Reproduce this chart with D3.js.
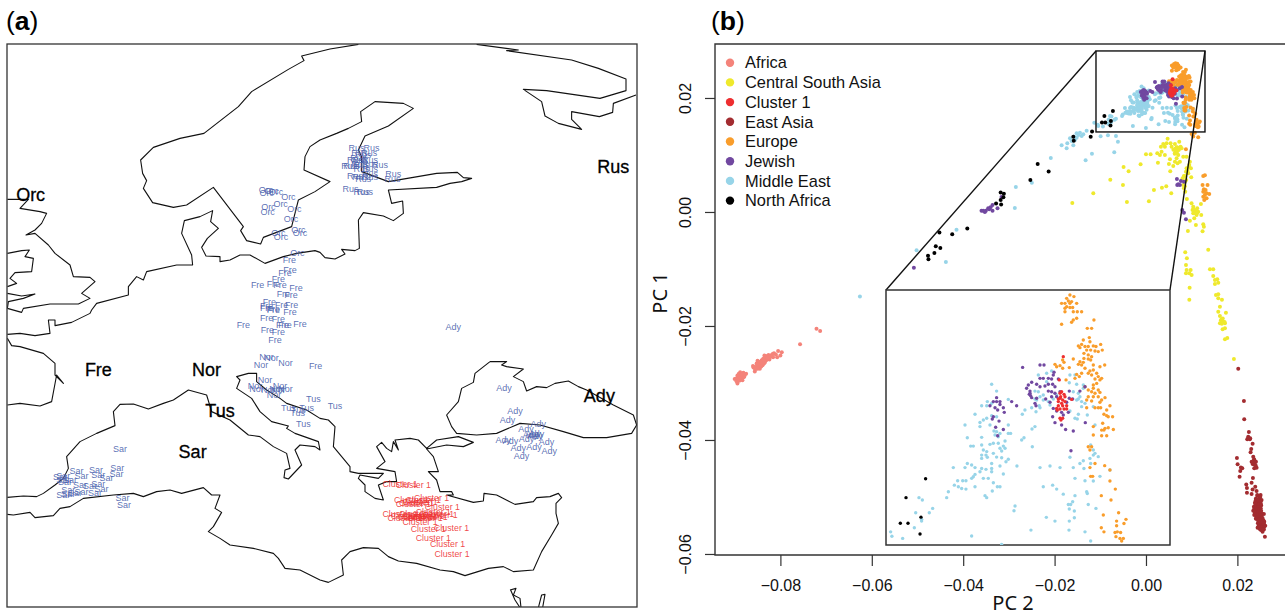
<!DOCTYPE html>
<html>
<head>
<meta charset="utf-8">
<script src="https://cdn.jsdelivr.net/npm/d3@7"></script>
<style>
  html, body { margin: 0; padding: 0; background: #fff; overflow: hidden; }
  text { font-family: "Liberation Sans", Arial, sans-serif; }
</style>
</head>
<body>
<div id="viz"></div>
<script>
// ---- panel (a): coastlines as [lon, lat]
const coastNorth = [[22.83,72.61],[20.56,72.24],[18.29,71.68],[18.48,71.31],[17.23,70.61],[14.29,68.83],[13.23,67.63],[10.48,65.49],[8.56,65.09],[6.43,64.37],[5.41,63.36],[5.57,62.29],[5.89,61.71],[5.63,61.09],[6.37,59.95],[8.03,59.57],[9.09,59.76],[11.23,61.17],[13.63,58.03],[13.41,57.71],[13.89,56.91],[15.01,56.64],[15.23,57.17],[17.49,58.03],[18.03,60.16],[19.36,60.83],[20.56,61.63],[18.48,62.56],[18.56,63.63],[18.96,64.43],[19.76,64.96],[21.09,65.49],[22.03,65.89],[23.09,66.43],[23.01,67.23],[24.16,68.03],[26.43,67.89],[27.23,67.49],[25.23,66.08],[23.36,65.28],[22.83,64.16],[23.09,63.63],[23.09,62.43],[24.16,62.03],[25.23,61.63],[29.09,62.29],[30.75,62.37],[31.23,61.95],[31.89,61.89],[31.09,61.63],[30.16,61.49],[29.09,61.17],[25.23,60.96],[25.49,59.89],[26.37,60.08],[26.43,59.09],[25.63,58.51],[24.83,58.88],[23.23,59.15],[22.83,58.56],[22.91,56.29],[22.56,56.11],[21.49,56.21],[21.76,55.84],[20.96,55.44],[20.16,55.55],[19.76,55.97],[19.36,56.11],[17.89,55.89],[16.83,55.63],[15.36,55.09],[14.16,55.76],[13.36,55.76],[12.56,55.36],[11.76,55.23],[11.76,55.63],[10.64,55.68],[10.29,56.37],[10.75,57.09],[11.63,57.89],[11.01,58.43],[11.17,59.31],[10.16,58.83],[8.91,58.51],[8.69,57.49],[9.49,55.76],[9.57,54.96],[8.29,54.96],[5.89,54.43],[5.63,53.76],[5.09,54.03],[4.43,53.23],[4.43,52.56],[1.89,51.89],[1.49,51.36],[1.36,51.09],[-0.11,50.37],[-1.44,50.11],[-1.44,50.56],[-1.97,50.56],[-1.84,49.49],[-3.04,49.31],[-4.24,49.49],[-5.25,49.41]];
const coastBiscay = [[-5.25,49.09],[-4.91,48.51],[-4.24,48.43],[-2.37,47.89],[-1.44,47.09],[-1.44,46.16],[-0.77,45.49],[-1.31,46.16],[-1.71,44.03],[-2.64,43.68],[-4.24,43.89],[-5.25,43.76]];
const coastBritain = [[-5.25,60.21],[-3.57,60.21],[-4.24,59.49],[-2.64,59.23],[-2.11,59.09],[-2.51,58.29],[-3.04,57.76],[-3.76,57.36],[-3.04,57.49],[-1.97,56.56],[-1.44,55.89],[-0.24,54.96],[0.03,54.03],[1.36,53.97],[1.76,53.63],[0.69,52.69],[1.36,52.29],[0.43,51.84],[-1.84,51.84],[-3.97,51.49],[-4.11,51.17],[-5.25,51.49]];
const coastIrelandA = [[-5.25,55.89],[-4.11,56.11],[-3.49,56.16],[-3.84,55.63],[-3.17,55.49],[-3.31,54.43],[-4.64,54.35],[-5.04,53.89],[-4.51,53.49],[-5.25,53.23]];
const coastIrelandB = [[-5.25,52.69],[-4.11,52.48],[-3.04,52.64],[-3.97,52.29],[-5.17,52.03],[-5.25,51.49]];
const coastMed = [[-5.25,36.37],[-3.97,36.48],[-2.91,36.43],[-2.37,36.69],[-1.44,37.36],[-0.77,37.89],[-0.37,38.69],[-0.51,39.63],[0.56,40.83],[1.89,41.49],[3.36,42.11],[3.23,43.23],[3.76,43.81],[4.83,43.84],[6.03,43.44],[7.23,43.89],[8.03,44.16],[9.23,44.96],[10.69,44.56],[11.09,43.23],[12.56,42.56],[14.03,41.36],[14.96,41.23],[16.03,40.43],[17.09,39.89],[17.36,38.69],[16.96,38.56],[16.88,37.95],[17.23,37.84],[18.29,38.96],[17.76,40.16],[18.16,40.56],[19.36,40.43],[19.76,40.16],[19.63,40.83],[17.76,41.49],[17.09,41.89],[17.23,42.08],[15.89,42.43],[14.96,43.23],[14.29,44.29],[13.09,45.09],[13.36,45.76],[13.09,46.03],[14.03,46.29],[14.69,46.29],[14.69,45.63],[15.49,44.96],[16.56,44.29],[17.09,43.89],[18.69,43.36],[19.76,42.69],[20.43,42.56],[20.96,42.03],[20.83,40.43],[22.16,38.83],[22.16,38.43],[22.83,38.29],[24.83,38.29],[24.43,37.89],[22.96,38.16],[22.83,37.89],[23.36,37.36],[23.36,36.83],[24.16,36.29],[24.83,36.16],[24.43,37.36],[25.09,37.63],[25.89,37.63],[25.76,38.43],[24.29,38.69],[24.96,39.23],[24.29,40.43],[24.69,40.77],[25.09,40.29],[25.49,40.03],[25.63,40.83],[26.03,40.16],[25.76,40.96],[26.96,41.09],[27.63,40.96],[28.29,40.29],[29.09,40.96],[30.83,41.23],[32.03,40.77],[31.23,40.43],[29.89,40.56],[28.29,40.24],[28.83,39.63],[29.23,38.43],[28.43,38.43],[29.09,37.76],[29.36,36.83],[30.29,36.83],[30.43,36.56],[29.89,36.56],[32.03,35.97],[32.83,36.08],[32.88,36.69],[33.89,36.56],[35.36,35.81],[36.83,36.03],[37.09,36.35],[38.16,36.43],[38.83,36.69],[39.09,36.35],[38.64,35.89],[38.64,35.09],[38.83,34.29],[38.29,33.36],[37.49,32.03],[36.83,30.56],[35.23,30.43],[34.43,30.83],[33.23,30.69],[31.36,30.11],[30.43,30.43],[29.36,30.56],[27.49,31.09],[26.03,31.28],[25.23,31.63],[24.43,32.29],[23.23,32.35],[22.16,32.03],[21.49,31.36],[21.63,30.16],[20.43,29.57],[19.76,29.76],[18.16,30.56],[16.96,30.69],[16.43,31.49],[16.03,31.89],[14.43,32.29],[12.56,32.56],[11.76,33.09],[10.83,33.63],[11.23,34.03],[11.89,35.17],[11.36,35.49],[11.76,36.56],[11.09,36.56],[10.43,37.15],[8.69,36.69],[7.76,36.96],[6.69,36.83],[5.63,36.43],[4.83,36.69],[3.23,36.56],[0.83,36.29],[-0.24,35.63],[-1.04,35.49],[-1.57,34.91],[-3.04,34.75],[-3.44,35.17],[-4.77,34.96],[-5.25,35.01]];
const coastBlackSea = [[33.36,47.23],[34.69,47.23],[34.29,46.96],[34.69,46.83],[36.03,46.64],[35.23,46.03],[36.03,45.63],[36.29,44.88],[37.09,45.23],[37.89,45.15],[38.56,45.49],[39.63,45.68],[40.43,45.23],[41.09,44.96],[43.23,43.76],[44.83,42.96],[45.09,42.16],[44.69,41.49],[42.69,41.15],[40.83,41.15],[39.23,41.63],[37.36,42.16],[35.76,42.29],[33.89,41.49],[32.29,41.36],[30.69,41.49],[30.29,42.03],[29.89,42.96],[30.83,44.03],[31.09,45.09],[32.03,45.57],[32.16,46.29],[33.36,47.23]];
const coastArctic = [[32.29,72.61],[35.63,72.16],[34.69,72.11],[39.89,71.36],[42.03,70.69],[44.24,69.84],[44.24,68.91],[42.16,68.29],[37.89,68.91],[36.03,69.01],[37.49,68.03],[37.76,66.88],[38.83,66.29],[40.69,65.81],[39.89,66.61],[39.89,67.23],[42.11,66.83],[43.17,67.17],[43.23,67.89],[45.04,68.56]];
const coastSinaiA = [[34.96,28.96],[35.44,29.09],[35.23,28.56],[35.76,28.29],[35.84,27.55]];
const coastSinaiB = [[35.01,28.96],[35.36,28.16],[35.76,27.55]];
const coastSinaiC = [[37.23,27.55],[37.49,28.56],[37.76,28.61],[37.57,27.55]];
const coastlines = [coastNorth, coastBiscay, coastBritain, coastIrelandA, coastIrelandB, coastMed, coastBlackSea, coastArctic, coastSinaiA, coastSinaiB, coastSinaiC];

// sample positions, [lon, lat]
const sampleRus = [[22.69,64.37],[23.89,64.37],[22.91,63.95],[23.71,63.95],[22.83,63.57],[23.76,63.41],[22.56,63.36],[22.96,63.36],[22.11,62.93],[22.29,62.88],[24.56,62.96],[23.76,63.04],[23.76,62.69],[23.09,62.96],[25.63,62.24],[25.57,61.89],[22.56,62.11],[22.96,62.03],[23.23,61.84],[23.76,62.24],[23.76,62.03],[22.21,61.09],[23.09,60.83],[23.36,60.83],[23.09,62.69],[23.23,63.76],[22.91,63.09]];
const sampleOrc = [[15.44,60.96],[15.49,60.75],[16.24,60.83],[17.23,60.43],[16.61,59.89],[15.63,59.63],[15.57,59.23],[17.71,59.49],[17.44,58.69],[18.03,57.81],[18.16,57.55],[16.43,57.55],[16.64,57.23],[15.89,60.91],[17.95,55.95]];
const sampleFre = [[17.31,55.36],[17.36,54.56],[16.96,54.35],[16.43,53.89],[14.77,53.41],[16.03,53.49],[16.56,53.36],[17.84,53.17],[16.83,52.69],[17.44,52.56],[15.71,52.03],[16.69,51.76],[17.49,51.76],[15.49,51.71],[16.03,51.49],[15.49,51.55],[16.03,51.36],[17.36,51.23],[15.49,50.75],[16.43,50.69],[16.77,50.16],[18.16,50.24],[13.63,50.21],[15.55,49.76],[16.43,49.63],[16.16,48.99],[19.41,46.91],[16.96,50.21]];
const sampleNor = [[15.49,47.63],[15.89,47.57],[17.01,47.15],[15.04,46.96],[15.36,45.76],[14.56,45.28],[14.69,45.09],[16.56,45.28],[17.01,45.04],[15.63,44.96],[16.29,45.09],[16.08,44.56],[16.43,44.96]];
const sampleTus = [[19.23,44.29],[17.23,43.55],[18.03,43.36],[18.69,43.55],[17.97,43.17],[18.43,42.24],[20.96,43.71]];
const sampleSar = [[3.76,40.29],[3.55,38.75],[1.84,38.56],[0.29,38.51],[-0.77,38.11],[0.69,38.08],[2.03,38.16],[2.69,37.95],[3.49,38.24],[-0.24,37.76],[-0.77,37.76],[0.56,37.36],[1.36,37.31],[2.03,37.44],[2.29,37.04],[-0.37,36.96],[1.76,36.75],[0.69,36.83],[-0.77,36.56],[0.16,36.77],[-0.37,36.69],[3.97,36.37],[4.08,35.76],[-0.64,37.63],[-1.04,38.03]];
const sampleAdy = [[30.43,50.03],[34.48,45.17],[35.36,43.28],[34.77,42.61],[37.23,42.24],[36.24,41.89],[36.83,41.49],[37.09,41.49],[36.29,41.09],[37.89,40.83],[34.43,40.96],[35.01,40.91],[35.63,40.35],[36.88,40.43],[38.11,40.11],[35.89,39.68],[36.61,41.36],[36.96,41.31]];
const sampleCluster = [[26.16,37.44],[27.23,37.36],[27.09,36.16],[28.69,36.35],[27.23,35.81],[27.49,35.89],[29.55,35.57],[28.83,35.23],[26.16,35.04],[27.36,34.83],[29.36,34.96],[26.56,34.75],[27.76,34.91],[29.09,35.01],[28.16,34.69],[27.49,35.01],[28.29,34.91],[28.56,34.83],[26.83,34.91],[27.76,34.43],[28.43,33.84],[30.29,33.95],[28.83,33.09],[29.97,32.61],[30.32,31.84],[28.03,36.16],[27.76,36.03]];
const mapSamples = [["Rus", sampleRus], ["Orc", sampleOrc], ["Fre", sampleFre], ["Nor", sampleNor], ["Tus", sampleTus], ["Sar", sampleSar], ["Ady", sampleAdy]];
const mapRefs = [["Orc",-3.39,60.56],["Rus",43.23,62.83],["Fre",2.03,46.56],["Nor",10.69,46.56],["Tus",11.76,43.28],["Sar",9.57,40.03],["Ady",42.11,44.51]];

// ---- panel (b): [PC2, PC1]
const africa = [[-0.0894,-0.0301],[-0.0897,-0.0292],[-0.0892,-0.0289],[-0.0887,-0.0284],[-0.0881,-0.0282],[-0.0875,-0.0284],[-0.0885,-0.0292],[-0.089,-0.0296],[-0.0883,-0.0295],[-0.0879,-0.0289],[-0.0888,-0.0281],[-0.0896,-0.0297],[-0.0887,-0.0289],[-0.0881,-0.029],[-0.09,-0.0293],[-0.0891,-0.0284],[-0.0859,-0.0273],[-0.0852,-0.0266],[-0.0846,-0.0263],[-0.0841,-0.026],[-0.0836,-0.0257],[-0.0832,-0.0253],[-0.0826,-0.0251],[-0.0819,-0.0251],[-0.0814,-0.0248],[-0.0805,-0.0244],[-0.0797,-0.0246],[-0.08,-0.0252],[-0.0807,-0.0255],[-0.0816,-0.0255],[-0.0823,-0.0255],[-0.0834,-0.0264],[-0.0839,-0.0269],[-0.0845,-0.0275],[-0.0856,-0.028],[-0.0848,-0.0269],[-0.0853,-0.0272],[-0.086,-0.027],[-0.0843,-0.0264],[-0.0837,-0.0263],[-0.083,-0.0257],[-0.0824,-0.0259],[-0.0835,-0.0252],[-0.084,-0.0266],[-0.085,-0.0261],[-0.081,-0.025],[-0.0721,-0.0205],[-0.0713,-0.0209],[-0.0757,-0.0232],[-0.0856,-0.0272],[-0.085,-0.0268],[-0.0847,-0.0272],[-0.0844,-0.0268],[-0.0841,-0.0264],[-0.0838,-0.0258],[-0.0834,-0.0256],[-0.083,-0.0253],[-0.0827,-0.0254],[-0.0831,-0.026],[-0.0835,-0.0261],[-0.0828,-0.0256],[-0.0821,-0.0253],[-0.0842,-0.0271],[-0.085,-0.0275],[-0.0855,-0.0276],[-0.0817,-0.0249],[-0.0836,-0.0266],[-0.0893,-0.0293],[-0.0886,-0.0287],[-0.0889,-0.0291],[-0.0884,-0.0285],[-0.0878,-0.0286],[-0.0894,-0.0287]];
const centralSouthAsia = [[0.00473,0.01286],[0.00378,0.01193],[0.00451,0.01205],[0.00538,0.01205],[0.00728,0.01234],[0.00633,0.01193],[0.00327,0.01146],[0.00414,0.01146],[0.0056,0.01146],[0.0067,0.01134],[0.00757,0.01146],[0.00633,0.01088],[0.00706,0.01088],[0.00779,0.01117],[0.00341,0.01058],[0.00247,0.01029],[0.00305,0.01],[0.00414,0.01],[0,0.01011],[0.00101,0.01011],[0.00633,0.01029],[0.00706,0.01],[0.00815,0.0097],[0.00888,0.0097],[0.0067,0.00941],[0.00633,0.00883],[0.00524,0.00924],[0.00742,0.00883],[0.00502,0.00842],[0.00597,0.00807],[0.00691,0.00853],[0.00261,0.00865],[-0.00118,0.00836],[-0.0049,0.00789],[-0.0038,0.00713],[0.00531,0.00713],[-0.00781,0.00567],[-0.00504,0.00473],[-0.01153,0.00327],[-0.01612,0.00157],[-0.00417,0.00175],[0.00064,0.00187],[0.00174,0.00386],[0.00349,0.00426],[0.00444,0.0045],[0.00553,0.00327],[0.00961,0.00883],[0.00947,0.00824],[0.00983,0.00766],[0.00888,0.00766],[0.00874,0.00707],[0.00925,0.00678],[0.0099,0.00608],[0.00852,0.00631],[0.00801,0.0059],[0.00852,0.00532],[0.00815,0.00473],[0.0083,0.00415],[0.00859,0.00356],[0.00895,0.00228],[0.00997,0.00151],[0.01034,0.00093],[0.01121,0.00064],[0.01019,0.00034],[0.0107,0.00005],[0.01143,0.00005],[0.01107,-0.00053],[0.01209,-0.00053],[0.01034,-0.00024],[0.01202,0.0014],[0.00961,-0.00153],[0.01056,-0.00112],[0.01092,-0.00229],[0.01253,-0.00217],[0.01267,-0.00258],[0.01238,-0.0034],[0.00917,-0.00334],[0.00859,-0.00708],[0.00895,-0.00814],[0.01362,-0.00662],[0.00875,-0.0093],[0.00889,-0.01018],[0.00977,-0.01018],[0.00875,-0.01076],[0.00948,-0.01076],[0.00999,-0.01105],[0.00955,-0.01328],[0.00948,-0.01538],[0.014,-0.01006],[0.01472,-0.01006],[0.01472,-0.01123],[0.01509,-0.01193],[0.0156,-0.01181],[0.01582,-0.0124],[0.01509,-0.01263],[0.01531,-0.01456],[0.01582,-0.01445],[0.01582,-0.01515],[0.01662,-0.01538],[0.01618,-0.01661],[0.01582,-0.01749],[0.01749,-0.01766],[0.01618,-0.01825],[0.01655,-0.01883],[0.01691,-0.01924],[0.01618,-0.01954],[0.01728,-0.01954],[0.01677,-0.02059],[0.01728,-0.02041],[0.01728,-0.02234],[0.01779,-0.02211],[0.01924,-0.02579],[0.01075,0.0002],[0.01035,0.0005],[0.011,0.0003],[0.0106,-0.0002],[0.0112,-0.0002],[0.0164,-0.019],[0.0168,-0.0187],[0.0172,-0.0193],[0.0166,-0.0196],[0.0064,0.0111],[0.0069,0.0113],[0.0066,0.0106],[0.006,0.0109],[0.0072,0.0109],[0.0068,0.0103],[0.0063,0.0102],[0.0094,0.008],[0.0091,0.0072],[0.0083,0.0063],[0.0088,0.0056],[0.0085,0.0045]];
const cluster1 = [[0.00583,0.02328],[0.00545,0.02222],[0.00567,0.02168],[0.00552,0.02161],[0.0059,0.02156],[0.00599,0.02145],[0.00552,0.02138],[0.00577,0.0213],[0.00536,0.02123],[0.00567,0.02115],[0.00599,0.02123],[0.00662,0.02133],[0.00536,0.02104],[0.00577,0.02104],[0.00615,0.02104],[0.0052,0.02092],[0.00552,0.02089],[0.0059,0.02089],[0.00615,0.02089],[0.00552,0.02047],[0.00577,0.02047],[0.00561,0.02039],[0.00526,0.02085],[0.00558,0.02145],[0.00536,0.02135]];
const eastAsia = [[0.02019,-0.02749],[0.02143,-0.03317],[0.0215,-0.03638],[0.02252,-0.03861],[0.02238,-0.03943],[0.02216,-0.03989],[0.02274,-0.03989],[0.02333,-0.04065],[0.02303,-0.04159],[0.02289,-0.04217],[0.02347,-0.04294],[0.02311,-0.04381],[0.02369,-0.04352],[0.02333,-0.04422],[0.02406,-0.04381],[0.02369,-0.04498],[0.0242,-0.04486],[0.0199,-0.04317],[0.02005,-0.04428],[0.02077,-0.04481],[0.02107,-0.04498],[0.02063,-0.04545],[0.02048,-0.04645],[0.0234,-0.04668],[0.02311,-0.0475],[0.02194,-0.04779],[0.02209,-0.04843],[0.02209,-0.04925],[0.02311,-0.04949],[0.02333,-0.04867],[0.02391,-0.0482],[0.0242,-0.04896],[0.02435,-0.04966],[0.02508,-0.04966],[0.02406,-0.05025],[0.02478,-0.05025],[0.02529,-0.05054],[0.02384,-0.05101],[0.02457,-0.05101],[0.02515,-0.05124],[0.02362,-0.05171],[0.02435,-0.05171],[0.02493,-0.05189],[0.02347,-0.05241],[0.0242,-0.05241],[0.02478,-0.05259],[0.0258,-0.053],[0.02369,-0.05317],[0.02442,-0.05329],[0.02515,-0.05335],[0.02406,-0.05376],[0.02478,-0.05393],[0.02551,-0.05405],[0.02449,-0.05463],[0.02522,-0.05463],[0.02588,-0.05434],[0.02478,-0.0551],[0.02544,-0.05522],[0.0261,-0.05504],[0.02442,-0.0554],[0.02515,-0.05581],[0.0258,-0.05569],[0.02551,-0.0561],[0.02602,-0.05698],[0.02398,-0.05066],[0.02457,-0.05288],[0.02384,-0.052],[0.02493,-0.05434],[0.0244,-0.0498],[0.025,-0.05],[0.0241,-0.0505],[0.0246,-0.0506],[0.0251,-0.0508],[0.024,-0.0511],[0.0243,-0.0514],[0.0248,-0.0513],[0.0252,-0.0515],[0.0238,-0.0516],[0.0241,-0.0519],[0.0246,-0.0518],[0.0251,-0.052],[0.0237,-0.0521],[0.024,-0.0523],[0.0244,-0.0522],[0.0248,-0.0523],[0.0252,-0.0524],[0.0238,-0.0526],[0.0242,-0.0527],[0.0246,-0.0527],[0.025,-0.0528],[0.0254,-0.0529],[0.0238,-0.053],[0.0241,-0.0532],[0.0245,-0.0531],[0.0249,-0.0532],[0.0253,-0.0533],[0.0243,-0.0535],[0.0247,-0.0536],[0.0251,-0.0536],[0.0255,-0.0537],[0.0241,-0.0538],[0.0245,-0.054],[0.0249,-0.054],[0.0253,-0.0541],[0.0257,-0.0541],[0.0246,-0.0544],[0.025,-0.0544],[0.0254,-0.0545],[0.0258,-0.0546],[0.0248,-0.0548],[0.0252,-0.0549],[0.0256,-0.0549],[0.025,-0.0552],[0.0254,-0.0553],[0.0258,-0.0553],[0.0246,-0.0552],[0.0249,-0.0556],[0.0253,-0.0556],[0.0256,-0.0557],[0.02365,-0.0434],[0.02385,-0.0439],[0.0234,-0.044],[0.0237,-0.0443],[0.024,-0.0445],[0.0224,-0.0396],[0.0228,-0.0397]];
const europe = [[0.00646,0.02609],[0.00684,0.02602],[0.00615,0.02594],[0.00631,0.02582],[0.00662,0.02579],[0.0071,0.02571],[0.00567,0.02571],[0.00599,0.02571],[0.00646,0.02571],[0.00615,0.02556],[0.00646,0.02552],[0.00672,0.02552],[0.00599,0.02549],[0.00599,0.02533],[0.00678,0.02533],[0.00716,0.02533],[0.00757,0.02533],[0.0071,0.02503],[0.00678,0.02495],[0.00662,0.02485],[0.00567,0.02476],[0.00874,0.02495],[0.00811,0.02457],[0.00852,0.02457],[0.00773,0.02404],[0.0083,0.02415],[0.00836,0.02396],[0.00757,0.02384],[0.00726,0.02377],[0.00789,0.02374],[0.0082,0.02374],[0.00868,0.02377],[0.00893,0.02374],[0.00938,0.02384],[0.00953,0.02358],[0.00741,0.02369],[0.00805,0.02358],[0.00843,0.02358],[0.00884,0.02354],[0.00779,0.02343],[0.0082,0.02336],[0.00915,0.02351],[0.00852,0.02328],[0.00779,0.0232],[0.0082,0.02317],[0.00843,0.02313],[0.00678,0.02317],[0.00741,0.02305],[0.00773,0.02302],[0.00726,0.02293],[0.00757,0.0229],[0.00868,0.0229],[0.00931,0.02282],[0.00976,0.0229],[0.00504,0.02293],[0.00552,0.02287],[0.00577,0.02313],[0.0059,0.02302],[0.0064,0.02278],[0.0052,0.02282],[0.00577,0.02275],[0.00789,0.02275],[0.00836,0.02263],[0.00868,0.02267],[0.009,0.02252],[0.0082,0.02252],[0.00852,0.02244],[0.00915,0.02237],[0.00947,0.02229],[0.00884,0.02226],[0.00931,0.02222],[0.009,0.02206],[0.00868,0.02199],[0.0071,0.02247],[0.00735,0.02237],[0.00757,0.02252],[0.00694,0.02229],[0.00609,0.02222],[0.00868,0.02184],[0.00915,0.02176],[0.00789,0.02191],[0.0082,0.02176],[0.00852,0.02168],[0.00884,0.02161],[0.00931,0.02165],[0.0082,0.02145],[0.00868,0.02145],[0.00915,0.02145],[0.00979,0.02141],[0.00947,0.0213],[0.00805,0.0213],[0.00852,0.02126],[0.00931,0.0212],[0.01026,0.02104],[0.00884,0.02095],[0.00915,0.02095],[0.00938,0.02095],[0.00805,0.02095],[0.00995,0.02085],[0.00969,0.02065],[0.00995,0.02059],[0.0101,0.02054],[0.01051,0.02054],[0.00868,0.02009],[0.00957,0.02024],[0.00979,0.02001],[0.00947,0.01993],[0.00969,0.01993],[0.0101,0.02004],[0.01058,0.01996],[0.00868,0.01971],[0.00947,0.01967],[0.00995,0.01967],[0.0082,0.01917],[0.00852,0.01917],[0.00836,0.01902],[0.00884,0.01841],[0.00836,0.01822],[0.00976,0.01831],[0.01026,0.01811],[0.00843,0.01782],[0.00862,0.01782],[0.01026,0.01761],[0.01077,0.01724],[0.00944,0.01694],[0.01036,0.01674],[0.00963,0.01606],[0.01108,0.01616],[0.01178,0.01586],[0.01089,0.01578],[0.01159,0.01567],[0.01089,0.01557],[0.00944,0.01548],[0.00969,0.01529],[0.01074,0.01526],[0.01096,0.01529],[0.01127,0.01526],[0.01083,0.01507],[0.01121,0.01499],[0.01153,0.01499],[0.01137,0.01487],[0.00998,0.01368],[0.01143,0.0131],[0.01034,0.01322],[0.0107,0.01392],[0.00874,0.01099],[0.01253,0.00631],[0.01289,0.00643],[0.01238,0.00473],[0.01347,0.00473],[0.01267,0.00397],[0.01304,0.00386],[0.01253,0.00356],[0.01326,0.00327],[0.01384,0.00315],[0.01289,0.00298],[0.01253,0.00268],[0.01326,0.00239],[0.01275,0.0021]];
const jewish = [[0.00197,0.02279],[0.00362,0.0229],[0.004,0.0229],[0.00495,0.02257],[0.00488,0.02244],[0.00362,0.02229],[0.00393,0.02229],[0.00441,0.02229],[0.00472,0.02226],[0.00536,0.02226],[0.00283,0.02211],[0.0033,0.02202],[0.00362,0.02191],[0.00409,0.02194],[0.00441,0.02202],[0.00482,0.02202],[0.00504,0.02191],[0.00251,0.02199],[0.00235,0.02184],[0.00267,0.02171],[0.0026,0.02156],[0.00283,0.02141],[0.0033,0.02138],[0.00416,0.02135],[0.00441,0.02171],[0.00472,0.02168],[0.00504,0.02161],[0.00472,0.02145],[0.0052,0.02145],[0.00552,0.02168],[0.0064,0.02171],[0.00741,0.02171],[0.00789,0.02191],[0.0064,0.02138],[0.00672,0.02135],[0.00615,0.0212],[0.00314,0.02115],[0.00324,0.02104],[0.00457,0.0212],[0.00488,0.02092],[0.0052,0.0208],[0.00567,0.02074],[0.00631,0.02074],[0.00482,0.02054],[0.00583,0.02062],[0.00504,0.02027],[0.00567,0.02016],[0.00605,0.01996],[0.00678,0.01989],[0.00656,0.01899],[0.00792,0.02027],[-0.0005,0.02141],[-0.00081,0.02123],[-0.0005,0.02123],[-0.00018,0.02123],[-0.00018,0.0211],[-0.00113,0.02104],[-0.00065,0.02095],[-0.0004,0.02085],[0.00014,0.02095],[0.00023,0.02074],[0.00093,0.02123],[0.0014,0.02104],[-0.00081,0.02054],[-0.00091,0.02044],[-0.00027,0.02034],[-0.00059,0.02006],[0.00014,0.01996],[-0.0004,0.01967],[0.00267,0.02161],[0.00273,0.0215],[-0.05079,-0.00978],[-0.03599,0.00023],[-0.03562,0.00023],[-0.03504,0.00023],[-0.03526,-0.00001],[-0.03453,0.00064],[-0.03402,0.00081],[-0.03358,0.00122],[-0.03431,0.00046],[-0.03358,0.00023],[-0.03249,0.00064],[-0.03161,0.00263],[0.00677,0.00579],[0.00764,0.00543],[0.00684,0.00473],[0.00742,0.00473],[0.0083,0.00532],[0.00793,0.00035],[0.0083,-0.00012],[0.00874,-0.00129],[0.00706,0.00485]];
const middleEast = [[-0.00097,0.02202],[-0.0005,0.02171],[0.00061,0.02133],[-0.00192,0.02104],[-0.00144,0.02104],[-0.00097,0.02115],[-0.00138,0.02123],[-0.00255,0.02065],[-0.0035,0.02016],[-0.00208,0.02028],[-0.00208,0.02009],[-0.00176,0.02039],[-0.00144,0.02047],[-0.00097,0.02059],[-0.0005,0.02054],[-0.00113,0.02016],[-0.00075,0.01989],[-0.0005,0.01986],[-0.00018,0.01978],[0.00061,0.02016],[-0.00328,0.01958],[-0.00192,0.0196],[-0.00065,0.01971],[-0.00034,0.01963],[0.00061,0.01978],[0.00083,0.01978],[0.0003,0.01943],[-0.00034,0.01933],[-0.00081,0.01933],[-0.00113,0.01928],[-0.00296,0.0192],[-0.00271,0.0192],[-0.00192,0.01925],[0.00014,0.0192],[-0.00018,0.0191],[0.0003,0.0191],[-0.00176,0.01902],[-0.00144,0.01895],[-0.00081,0.01887],[-0.00002,0.01898],[-0.00192,0.01879],[-0.00151,0.01879],[-0.00138,0.01869],[-0.00192,0.01864],[-0.0005,0.0187],[-0.00002,0.01867],[0.00061,0.0186],[0.00039,0.01849],[-0.00328,0.01841],[-0.0035,0.01822],[-0.00461,0.01822],[-0.00287,0.01834],[-0.00255,0.01822],[-0.00192,0.01818],[-0.00151,0.01814],[-0.00097,0.01841],[-0.00097,0.01818],[-0.00018,0.01829],[-0.00097,0.01803],[-0.00208,0.01803],[-0.00255,0.01791],[-0.00271,0.0178],[-0.00287,0.01773],[0.00014,0.01793],[-0.0042,0.01762],[-0.00372,0.01762],[-0.00341,0.01762],[-0.00176,0.01773],[-0.00129,0.01773],[-0.00451,0.01742],[-0.00413,0.01735],[-0.00382,0.01727],[-0.00341,0.01724],[-0.00255,0.01735],[-0.00081,0.01753],[-0.00043,0.01735],[-0.00018,0.01735],[-0.00091,0.01715],[-0.00508,0.01712],[-0.00524,0.01685],[-0.0016,0.01694],[-0.00144,0.01685],[-0.00787,0.01685],[-0.00755,0.01674],[-0.00657,0.01636],[-0.00689,0.01616],[-0.00818,0.01616],[-0.00762,0.01586],[-0.00762,0.01578],[-0.00831,0.01548],[-0.00942,0.01499],[-0.00287,0.0151],[-0.00002,0.01472],[-0.01056,0.01529],[0.00194,0.02065],[0.00219,0.02085],[0.00283,0.02095],[0.00362,0.02095],[0.00324,0.02077],[0.00355,0.02104],[0.0033,0.0213],[0.00314,0.02171],[0.00346,0.02168],[0.00393,0.02153],[0.00362,0.02145],[0.00314,0.02135],[0.00441,0.02123],[0.00393,0.0213],[0.00488,0.02135],[0.00457,0.02107],[0.0052,0.02153],[0.00425,0.02214],[0.00346,0.02244],[0.00425,0.02252],[0.00472,0.02263],[0.00646,0.02244],[0.00694,0.02244],[0.0064,0.02209],[0.0071,0.02202],[0.00678,0.02168],[0.00726,0.02161],[0.00741,0.02145],[0.00757,0.02123],[0.00726,0.02135],[0.00773,0.02184],[0.0071,0.0213],[0.00789,0.02115],[0.00757,0.021],[0.00646,0.0208],[0.00811,0.02062],[0.00726,0.02065],[0.00694,0.02047],[0.00716,0.02044],[0.00868,0.021],[0.00773,0.02199],[0.00884,0.02016],[0.00314,0.02009],[0.00286,0.01998],[0.00188,0.01948],[0.0021,0.01958],[0.00289,0.01917],[0.00646,0.01869],[0.00773,0.01853],[0.00741,0.01841],[0.00779,0.01818],[0.00678,0.01822],[0.00552,0.01822],[0.00457,0.01829],[0.00362,0.01822],[0.00143,0.01829],[0.00843,0.01925],[0.00868,0.01902],[0.00884,0.01887],[0.00915,0.01872],[0.00868,0.01879],[0.00836,0.01864],[0.00843,0.01841],[0.00694,0.01773],[0.00789,0.01762],[0.00931,0.01782],[0.01026,0.01811],[0.00868,0.01761],[0.00393,0.01735],[0.00482,0.01742],[0.0052,0.01724],[0.00583,0.01701],[0.00694,0.01694],[0.00805,0.01712],[0.00811,0.01704],[0.00631,0.01654],[0.00653,0.01654],[0.00672,0.01666],[0.0082,0.01654],[0.00893,0.01636],[0.0064,0.01633],[0.00688,0.01624],[0.00125,0.01647],[0.00115,0.01625],[0.00422,0.01595],[0.00504,0.01578],[0.0064,0.01578],[0.00688,0.01593],[0.00637,0.01537],[0.00789,0.01529],[0.00276,0.01537],[0.00843,0.01487],[-0.0502,-0.00673],[-0.04146,-0.00311],[-0.04379,-0.00878],[-0.0287,0.0007],[-0.02848,0.00438],[-0.02498,0.00514],[-0.02083,0.00947],[-0.0626,-0.01481],[-0.01846,0.01169],[-0.01722,0.01205],[-0.01736,0.01117],[-0.0159,0.01169],[-0.01663,0.01292],[-0.01576,0.01322],[-0.01518,0.0138],[-0.01445,0.01392],[-0.01372,0.01362],[-0.01627,0.01245],[-0.01518,0.01304],[-0.01408,0.01333],[-0.01554,0.01263],[-0.01481,0.01351],[-0.01321,0.00906],[-0.01182,0.01023],[-0.00993,0.01327],[-0.00832,0.01345],[-0.00657,0.01333],[-0.00614,0.01234],[-0.00694,0.01047],[-0.01299,0.01427],[-0.01131,0.01567],[-0.01044,0.01509]];
const northAfrica = [[-0.00724,0.01771],[-0.0091,0.01685],[-0.00768,0.01596],[-0.00964,0.01568],[-0.00891,0.01568],[-0.00777,0.01519],[-0.0452,-0.0036],[-0.0424,-0.0039],[-0.0391,-0.0029],[-0.046,-0.006],[-0.045,-0.0063],[-0.0463,-0.0072],[-0.0477,-0.0077],[-0.0476,-0.0083],[-0.0237,0.0084],[-0.0213,0.0071],[-0.0253,0.0056],[-0.0318,0.0034],[-0.0311,0.0032],[-0.0312,0.0026],[-0.0318,0.0021],[-0.0328,0.0015],[-0.0317,0.0013],[-0.0159,0.0132],[-0.0158,0.0125],[-0.0121,0.0132],[-0.0118,0.0141]];

const regions = ["Africa", "Central South Asia", "Cluster 1", "East Asia", "Europe", "Jewish", "Middle East", "North Africa"];
const regionColors = ["#f4837a", "#efe92c", "#ee2e30", "#a32c30", "#f99d2b", "#7148a0", "#97d4e8", "#000000"];
const regionPoints = [africa, centralSouthAsia, cluster1, eastAsia, europe, jewish, middleEast, northAfrica];
const drawOrder = ["Middle East", "Europe", "Central South Asia", "East Asia", "Africa", "Jewish", "North Africa", "Cluster 1"];
const xTicks = [-0.08, -0.06, -0.04, -0.02, 0, 0.02];
const yTicks = [0.02, 0, -0.02, -0.04, -0.06];
const zoomBox = { pc2: [-0.01094, 0.01291], pc1: [0.02825, 0.01404] };

const svg = d3.select("#viz").append("svg").attr("width", 1285).attr("height", 616).style("display", "block").style("opacity", 0.999);
const color = d3.scaleOrdinal().domain(regions).range(regionColors);
const fmt = (d) => d3.format(".2f")(d).replace("-", "\u2212");

function panel_title(x, letter) {
  let t = svg.append("text").attr("x", x).attr("y", 30).attr("font-size", 26.5);
  t.append("tspan").text("(");
  t.append("tspan").attr("font-weight", "bold").text(letter);
  t.append("tspan").text(")");
}
panel_title(6, "a");
panel_title(711, "b");

// map panel
const mapX = d3.scaleLinear().domain([-5.28, 45.12]).range([7, 637]);
const mapY = d3.scaleLinear().domain([72.64, 27.6]).range([44, 607]);
const mapG = svg.append("g");
svg.append("clipPath").attr("id", "map-clip").append("rect").attr("x", 7).attr("y", 44).attr("width", 630).attr("height", 563);
const coastLine = d3.line().x((d) => mapX(d[0])).y((d) => mapY(d[1]));
mapG.append("g").attr("clip-path", "url(#map-clip)")
  .selectAll("path").data(coastlines).join("path")
  .attr("d", coastLine).attr("fill", "none").attr("stroke", "#111").attr("stroke-width", 1.1).attr("stroke-linejoin", "round");
mapSamples.forEach(([name, pts]) => {
  mapG.append("g").selectAll("text").data(pts).join("text")
    .attr("x", (d) => mapX(d[0])).attr("y", (d) => mapY(d[1]))
    .attr("dy", "0.35em").attr("text-anchor", "middle").attr("font-size", 9)
    .attr("fill", "#4a5fad").attr("fill-opacity", 0.9).text(name);
});
mapG.append("g").selectAll("text").data(sampleCluster).join("text")
  .attr("x", (d) => mapX(d[0])).attr("y", (d) => mapY(d[1]))
  .attr("dy", "0.35em").attr("text-anchor", "middle").attr("font-size", 8.8)
  .attr("fill", "#ee3333").attr("fill-opacity", 0.9).text("Cluster 1");
mapG.append("g").selectAll("text").data(mapRefs).join("text")
  .attr("x", (d) => mapX(d[1])).attr("y", (d) => mapY(d[2]))
  .attr("dy", "0.35em").attr("text-anchor", "middle").attr("font-size", 18)
  .attr("fill", "#000").attr("stroke", "#000").attr("stroke-width", 0.3).text((d) => d[0]);
mapG.append("rect").attr("x", 7).attr("y", 44).attr("width", 630).attr("height", 563)
  .attr("fill", "none").attr("stroke", "#333").attr("stroke-width", 1.3);

// PCA panel
const pcX = d3.scaleLinear().domain([-0.09431, 0.03042]).range([715, 1285]);
const pcY = d3.scaleLinear().domain([0.02947, -0.06018]).range([44, 555]);

function draw_points(g, x, y, r, keep) {
  drawOrder.forEach((name) => {
    let pts = regionPoints[regions.indexOf(name)].filter(keep);
    g.append("g").selectAll("circle").data(pts).join("circle")
      .attr("cx", (d) => x(d[0])).attr("cy", (d) => y(d[1]))
      .attr("r", r).attr("fill", color(name));
  });
}
draw_points(svg.append("g"), pcX, pcY, 2, () => true);

// zoom box and connectors
const box = svg.append("g").attr("fill", "none").attr("stroke", "#111").attr("stroke-width", 1.4);
box.append("rect")
  .attr("x", pcX(zoomBox.pc2[0])).attr("y", pcY(zoomBox.pc1[0]))
  .attr("width", pcX(zoomBox.pc2[1]) - pcX(zoomBox.pc2[0]))
  .attr("height", pcY(zoomBox.pc1[1]) - pcY(zoomBox.pc1[0]));

const insetX = d3.scaleLinear().domain([-0.011, 0.01596]).range([886, 1170]);
const insetY = d3.scaleLinear().domain([0.02632, 0.01469]).range([290, 545]);
box.append("line").attr("x1", pcX(zoomBox.pc2[0])).attr("y1", pcY(zoomBox.pc1[0]))
  .attr("x2", insetX.range()[0]).attr("y2", insetY.range()[0]);
box.append("line").attr("x1", pcX(zoomBox.pc2[1])).attr("y1", pcY(zoomBox.pc1[0]))
  .attr("x2", insetX.range()[1]).attr("y2", insetY.range()[0]);

svg.append("rect").attr("x", 886).attr("y", 290).attr("width", 284).attr("height", 255)
  .attr("fill", "#fff").attr("stroke", "#333").attr("stroke-width", 1.5);
svg.append("clipPath").attr("id", "inset-clip").append("rect").attr("x", 886).attr("y", 290).attr("width", 284).attr("height", 255);
draw_points(svg.append("g").attr("clip-path", "url(#inset-clip)"), insetX, insetY, 1.7,
  (d) => d[0] >= -0.011 && d[0] <= 0.01596 && d[1] <= 0.02632 && d[1] >= 0.01469);

// frame: left, top and bottom only reach the edge of the page
svg.append("path").attr("d", d3.line()([[1285, 44], [715, 44], [715, 555], [1285, 555]]))
  .attr("fill", "none").attr("stroke", "#333").attr("stroke-width", 1.4);

// axes
const xAxis = svg.append("g").attr("transform", "translate(0,555)")
  .call(d3.axisBottom(pcX).tickValues(xTicks).tickFormat(fmt).tickSize(11).tickPadding(14));
xAxis.select(".domain").remove();
xAxis.selectAll("text").attr("font-size", 16).attr("font-family", "Liberation Sans").attr("fill", "#111");
xAxis.selectAll("line").attr("stroke", "#333").attr("stroke-width", 1.2);

const yAxis = svg.append("g").attr("transform", "translate(715,0)")
  .call(d3.axisLeft(pcY).tickValues(yTicks).tickFormat(fmt).tickSize(10));
yAxis.select(".domain").remove();
yAxis.selectAll("text").attr("font-size", 16).attr("font-family", "Liberation Sans").attr("fill", "#111")
  .attr("x", 0).attr("y", -24).attr("dy", 0).attr("transform", "rotate(-90)").attr("text-anchor", "middle");
yAxis.selectAll("line").attr("stroke", "#333").attr("stroke-width", 1.2);

svg.append("text").attr("x", 0).attr("y", 0).attr("transform", "translate(667,293) rotate(-90)")
  .attr("text-anchor", "middle").attr("font-size", 20).style("font-family", "Noto Sans").attr("fill", "#111").text("PC 1");
svg.append("text").attr("x", 1013).attr("y", 610)
  .attr("text-anchor", "middle").attr("font-size", 20).style("font-family", "Noto Sans").attr("fill", "#111").text("PC 2");

// legend
const legend = svg.append("g").selectAll("g").data(regions).join("g")
  .attr("transform", (d, i) => `translate(730,${62.7 + i * 19.7})`);
legend.append("circle").attr("r", 4.2).attr("fill", (d) => color(d));
legend.append("text").attr("x", 15).attr("dy", "0.35em").attr("font-size", 16.4).attr("fill", "#111").text((d) => d);
</script>
</body>
</html>
